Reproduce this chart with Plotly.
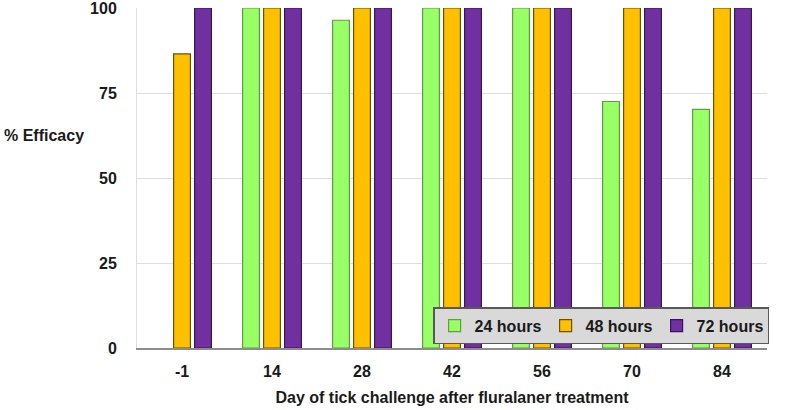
import plotly.graph_objects as go

days = ["-1", "14", "28", "42", "56", "70", "84"]
h24 = [None, 100, 96.4, 100, 100, 72.5, 70.2]
h48 = [86.5, 100, 100, 100, 100, 100, 100]
h72 = [100, 100, 100, 100, 100, 100, 100]
y_ticks = [0, 25, 50, 75, 100]

font = dict(family="Liberation Sans, Arial, sans-serif", size=16, color="#1a1a1a")

fig = go.Figure()
fig.add_bar(x=days, y=h24, name="<b>24 hours</b>", marker=dict(color="#99FF66", line=dict(color="#5f9e45", width=1.2)))
fig.add_bar(x=days, y=h48, name="<b>48 hours</b>", marker=dict(color="#FFC000", line=dict(color="#6b5200", width=1.2)))
fig.add_bar(x=days, y=h72, name="<b>72 hours</b>", marker=dict(color="#7030A0", line=dict(color="#3a1556", width=1.2)))

fig.update_layout(
    width=787, height=410,
    margin=dict(l=137, r=20, t=8, b=62, autoexpand=False),
    plot_bgcolor="white", paper_bgcolor="white",
    barmode="group", bargap=0.3, bargroupgap=0.2,
    font=font,
    showlegend=True,
    legend=dict(
        orientation="h", x=0.47, y=0.12, xanchor="left", yanchor="top",
        bgcolor="#d9d9d9", bordercolor="#595959", borderwidth=1.5,
        font=dict(family="Liberation Sans, Arial, sans-serif", size=16, color="#1a1a1a"),
        itemwidth=30, tracegroupgap=0, entrywidth=66,
    ),
    xaxis=dict(
        showline=True, linecolor="#8c8c8c", linewidth=1.5,
        ticks="", tickfont=dict(size=16, color="#1a1a1a", weight="bold"),
        showgrid=False, ticklabelstandoff=8,
        title=dict(text="<b>Day of tick challenge after fluralaner treatment</b>", font=dict(size=16), standoff=13),
    ),
    yaxis=dict(
        range=[0, 100], tickvals=y_ticks, ticktext=[str(v) for v in y_ticks],
        showgrid=True, gridcolor="#dedede", gridwidth=1,
        showline=True, linecolor="#dedede", linewidth=1,
        zeroline=False, ticks="", ticklen=0,
        tickfont=dict(size=16, color="#1a1a1a", weight="bold"),
        ticklabelstandoff=16, ticklabeloverflow="allow",
    ),
)
fig.add_annotation(text="<b>% Efficacy</b>", xref="paper", yref="paper", x=-0.215, y=0.625,
                   xanchor="left", yanchor="middle", showarrow=False, font=dict(size=16, color="#1a1a1a"))

fig.write_html("out.html", config={"displayModeBar": False},
               post_script="document.body.style.margin='0';document.body.style.overflow='hidden';")
